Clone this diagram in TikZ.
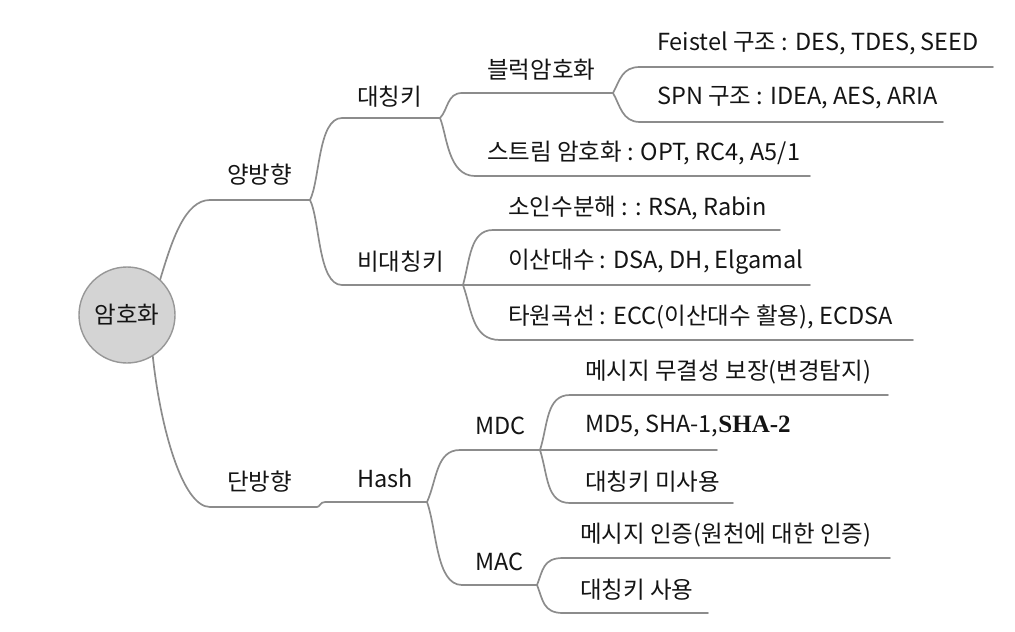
\documentclass[tikz,border=0pt]{standalone}
\usepackage{fontspec}
\setmainfont{Noto Sans CJK KR}
\newfontfamily\serifsha{Liberation Serif}
\definecolor{ln}{HTML}{8C8C8C}
\definecolor{tx}{HTML}{141414}
\definecolor{rootfill}{HTML}{D4D4D4}
\begin{document}
\begin{tikzpicture}[x=1pt,y=-1pt,
  lbl/.style={anchor=west,inner sep=0pt,text=tx,font=\fontsize{23.5}{28}\selectfont},
  br/.style={draw=ln,line width=1.7pt,line cap=round}]
\useasboundingbox (0,0) rectangle (1015,632);
% root
\node[circle,minimum size=96pt,fill=rootfill,draw=ln!90,line width=1.4pt,inner sep=0pt,text=tx,font=\fontsize{23.5}{28}\selectfont] (root) at (127,315) {암호화};
% labels
\node[lbl] (yang) at (227,175) {양방향};
\node[lbl] (dae) at (357,97) {대칭키};
\node[lbl] (bidae) at (357,262) {비대칭키};
\node[lbl] (block) at (487,70) {블럭암호화};
\node[lbl] (stream) at (487,153) {스트림 암호화 : OPT, RC4, A5/1};
\node[lbl] (feistel) at (657,43) {Feistel 구조 : DES, TDES, SEED};
\node[lbl] (spn) at (657,98) {SPN 구조 : IDEA, AES, ARIA};
\node[lbl] (soin) at (508,208) {소인수분해 : : RSA, Rabin};
\node[lbl] (isan) at (508,262) {이산대수 : DSA, DH, Elgamal};
\node[lbl] (tawon) at (508,317) {타원곡선 : ECC(이산대수 활용), ECDSA};
\node[lbl] (dan) at (227,482) {단방향};
\node[lbl] (hash) at (357,478) {Hash};
\node[lbl] (mdc) at (475,426) {MDC};
\node[lbl] (mac) at (475,562) {MAC};
\node[lbl] (integ) at (585,372) {메시지 무결성 보장(변경탐지)};
\node[lbl] (md5) at (585,426) {MD5, SHA-1,{\serifsha\bfseries\fontsize{25}{28}\selectfont SHA-2}};
\node[lbl] (nokey) at (585,482) {대칭키 미사용};
\node[lbl] (auth) at (580,535) {메시지 인증(원천에 대한 인증)};
\node[lbl] (key) at (580,590) {대칭키 사용};
% junctions and line ends
\coordinate (yangS) at (210,200); \coordinate (jyang) at (310,200);
\coordinate (daeS) at (342,118); \coordinate (jdae) at (440,118);
\coordinate (bidaeS) at (342,285); \coordinate (jbidae) at (463,285);
\coordinate (blockS) at (462,93); \coordinate (jblock) at (613,93);
\coordinate (streamS) at (475,176); \coordinate (streamE) at (810,176);
\coordinate (feistelS) at (640,67); \coordinate (feistelE) at (993,67);
\coordinate (spnS) at (640,122); \coordinate (spnE) at (943,122);
\coordinate (soinS) at (493,230); \coordinate (soinE) at (780,230);
\coordinate (isanE) at (810,285);
\coordinate (tawonS) at (500,340); \coordinate (tawonE) at (913,340);
\coordinate (danS) at (210,507); \coordinate (danE) at (317,507);
\coordinate (hashS) at (325,502); \coordinate (jhash) at (427,502);
\coordinate (mdcS) at (460,450); \coordinate (jmdc) at (540,450);
\coordinate (macS) at (462,585); \coordinate (jmac) at (537,585);
\coordinate (integS) at (570,395); \coordinate (integE) at (888,395);
\coordinate (md5E) at (717,450);
\coordinate (nokeyS) at (570,503); \coordinate (nokeyE) at (733,503);
\coordinate (authS) at (563,558); \coordinate (authE) at (890,558);
\coordinate (keyS) at (563,613); \coordinate (keyE) at (708,613);
% connectors
\draw[br] (root.47) .. controls (172,240) and (185,200) .. (yangS) -- (jyang);
\draw[br] (root.-58) .. controls (160,425) and (182,507) .. (danS) -- (danE)
  .. controls (320,507) and (320,502) .. (hashS) -- (jhash);
\draw[br] (jyang) .. controls (320,180) and (318,118) .. (daeS) -- (jdae);
\draw[br] (jyang) .. controls (320,220) and (318,285) .. (bidaeS) -- (jbidae);
\draw[br] (jdae) .. controls (448,110) and (447,93) .. (blockS) -- (jblock);
\draw[br] (jdae) .. controls (447,135) and (448,176) .. (streamS) -- (streamE);
\draw[br] (jblock) .. controls (620,80) and (622,67) .. (feistelS) -- (feistelE);
\draw[br] (jblock) .. controls (620,105) and (622,122) .. (spnS) -- (spnE);
\draw[br] (jbidae) .. controls (470,260) and (470,230) .. (soinS) -- (soinE);
\draw[br] (jbidae) -- (isanE);
\draw[br] (jbidae) .. controls (472,310) and (472,340) .. (tawonS) -- (tawonE);
\draw[br] (jhash) .. controls (437,480) and (436,450) .. (mdcS) -- (jmdc);
\draw[br] (jhash) .. controls (437,530) and (436,585) .. (macS) -- (jmac);
\draw[br] (jmdc) .. controls (548,425) and (546,395) .. (integS) -- (integE);
\draw[br] (jmdc) -- (md5E);
\draw[br] (jmdc) .. controls (548,475) and (546,503) .. (nokeyS) -- (nokeyE);
\draw[br] (jmac) .. controls (543,570) and (543,558) .. (authS) -- (authE);
\draw[br] (jmac) .. controls (543,600) and (543,613) .. (keyS) -- (keyE);
\end{tikzpicture}
\end{document}
